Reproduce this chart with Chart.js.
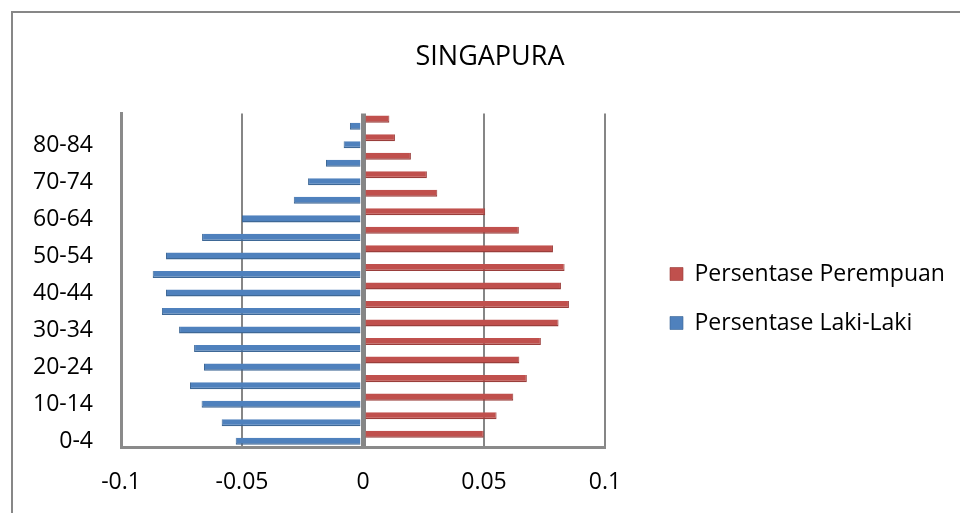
<!DOCTYPE html>
<html>
<head>
<meta charset="utf-8">
<script src="https://cdn.jsdelivr.net/npm/chart.js@4/dist/chart.umd.min.js"></script>
<style>
  html, body { margin: 0; padding: 0; background: #ffffff; }
  canvas { display: block; }
</style>
</head>
<body>
<canvas id="c" width="960" height="513"></canvas>
<script>
// ---- data (bottom to top of the pyramid) ----
const ageGroups = ['0-4','5-9','10-14','15-19','20-24','25-29','30-34','35-39','40-44','45-49','50-54','55-59','60-64','65-69','70-74','75-79','80-84','85+'];
const perempuan = [0.0499,0.0552,0.0621,0.0677,0.0646,0.0735,0.0808,0.0851,0.0818,0.0833,0.0785,0.0644,0.0505,0.0307,0.0264,0.0198,0.0132,0.0109];
const lakiLaki  = [-0.0526,-0.0584,-0.0667,-0.0715,-0.0657,-0.0698,-0.0760,-0.0831,-0.0814,-0.0869,-0.0814,-0.0665,-0.0500,-0.0286,-0.0227,-0.0153,-0.0080,-0.0054];
const xTickValues = [-0.1, -0.05, 0, 0.05, 0.1];
const xTickLabels = ['-0.1', '-0.05', '0', '0.05', '0.1'];
const seriesNames = ['Persentase Perempuan', 'Persentase Laki-Laki'];
const chartTitle = 'SINGAPURA';

const FONT = "'Open Sans', 'Liberation Sans', sans-serif";
const GRID = '#868686';

const frame = {
  id: 'frame',
  beforeDraw(chart) {
    const ctx = chart.ctx;
    ctx.save();
    ctx.fillStyle = '#ffffff';
    ctx.fillRect(0, 0, chart.width, chart.height);
    ctx.strokeStyle = '#878787';
    ctx.lineWidth = 2;
    ctx.strokeRect(12, 12, chart.width + 40, chart.height + 40);
    ctx.restore();
  }
};

const legendPlace = {
  id: 'legendPlace',
  afterLayout(chart) {
    const lg = chart.legend;
    if (!lg) return;
    const pad = 26, fs = 23;
    const w = lg.width, h = lg.height;
    lg.left = 670 - pad;
    lg.right = lg.left + w;
    lg.top = 274 - pad - fs / 2;
    lg.bottom = lg.top + Math.max(h, 200);
  }
};

new Chart(document.getElementById('c'), {
  type: 'bar',
  data: {
    labels: ageGroups,
    datasets: [
      {
        label: seriesNames[0],
        data: perempuan,
        backgroundColor: '#C0504D',
        borderColor: '#9A3E3B',
        borderWidth: { top: 0, left: 0, right: 1, bottom: 1.5 },
        borderSkipped: 'start'
      },
      {
        label: seriesNames[1],
        data: lakiLaki,
        backgroundColor: '#4F81BD',
        borderColor: '#3E6896',
        borderWidth: { top: 0, left: 1, right: 0, bottom: 1.5 },
        borderSkipped: 'start'
      }
    ]
  },
  options: {
    indexAxis: 'y',
    responsive: false,
    animation: false,
    layout: { padding: { left: 20, right: 0, top: 0, bottom: 0 } },
    datasets: { bar: { categoryPercentage: 0.76, barPercentage: 1.0 } },
    scales: {
      x: {
        type: 'linear',
        min: -0.1,
        max: 0.1,
        afterBuildTicks(scale) { scale.ticks = xTickValues.map(v => ({ value: v })); },
        afterFit(scale) { scale.height = 66; },
        grid: {
          color: GRID,
          lineWidth: (c) => (c.tick && c.tick.value === 0 ? 5 : 2),
          drawTicks: false
        },
        border: { display: true, color: '#8A8A8A', width: 3 },
        ticks: {
          padding: 22,
          color: '#000000',
          font: { family: FONT, size: 23 },
          callback: (v, i) => xTickLabels[i]
        }
      },
      y: {
        type: 'category',
        reverse: true,
        afterFit(scale) { scale.width = 101; },
        grid: { display: false, drawTicks: false },
        border: { display: true, color: '#8A8A8A', width: 3 },
        ticks: {
          autoSkip: false,
          padding: 28,
          labelOffset: 4,
          color: '#000000',
          font: { family: FONT, size: 23 },
          callback: (v, i) => (i % 2 === 0 ? ageGroups[i] : '')
        }
      },
      spacer: {
        type: 'linear',
        position: 'right',
        display: true,
        grid: { display: false, drawTicks: false },
        border: { display: false },
        ticks: { display: false },
        afterFit(scale) { scale.width = 355; }
      }
    },
    plugins: {
      title: {
        display: true,
        text: chartTitle,
        color: '#000000',
        font: { family: FONT, size: 27, weight: 'normal', lineHeight: 1.2 },
        padding: { top: 41, bottom: 40 }
      },
      legend: {
        display: true,
        position: 'chartArea',
        align: 'start',
        labels: {
          boxWidth: 13,
          boxHeight: 13,
          padding: 26,
          color: '#000000',
          font: { family: FONT, size: 23 }
        }
      },
      tooltip: { enabled: false }
    }
  },
  plugins: [frame, legendPlace]
});
</script>
</body>
</html>
